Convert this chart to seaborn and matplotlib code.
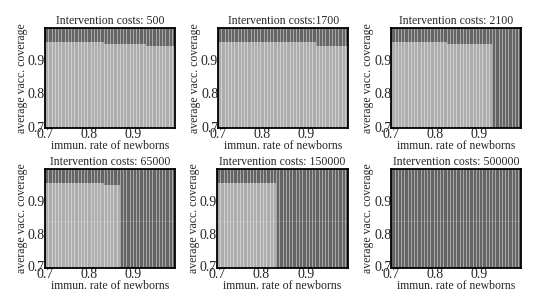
import numpy as np
import matplotlib
matplotlib.use("Agg")
import matplotlib.pyplot as plt
import seaborn as sns
from matplotlib.colors import ListedColormap

sns.set_style("white")
plt.rcParams["font.family"] = ["Liberation Serif", "DejaVu Serif"]

# intervention costs shown in the panel titles
costs = ["500", "1700", "2100", "65000", "150000", "500000"]
titles = ["Intervention costs: 500", "Intervention costs:1700", "Intervention costs: 2100",
          "Intervention costs: 65000", "Intervention costs: 150000", "Intervention costs: 500000"]

# light (feasible) region: right edge of each step and its top coverage
steps_x = [
    [0.83, 0.925, 0.995],
    [0.83, 0.92, 0.995],
    [0.827, 0.927],
    [0.83, 0.866],
    [0.836],
    [],
]
steps_top = [
    [0.96, 0.955, 0.946],
    [0.96, 0.957, 0.947],
    [0.96, 0.955],
    [0.96, 0.955],
    [0.96],
    [],
]

# grid of the simulation
x_edges = np.linspace(0.70, 0.995, 41)
y_edges = np.linspace(0.70, 1.0, 51)
x_mid = (x_edges[:-1] + x_edges[1:]) / 2
y_mid = (y_edges[:-1] + y_edges[1:]) / 2
dx = x_edges[1] - x_edges[0]
dy = y_edges[1] - y_edges[0]

positions = [
    [0.084, 0.584, 0.2425, 0.325],
    [0.407, 0.584, 0.2425, 0.325],
    [0.730, 0.584, 0.2425, 0.325],
    [0.084, 0.130, 0.2425, 0.321],
    [0.405, 0.130, 0.2445, 0.321],
    [0.730, 0.130, 0.2425, 0.321],
]

cmap = ListedColormap(["#4a4a4a", "#a0a0a0"])

fig = plt.figure(figsize=(5.36, 3.08), dpi=100)

for i in range(6):
    grid = np.zeros((len(y_mid), len(x_mid)))
    left = 0.70
    for xr, top in zip(steps_x[i], steps_top[i]):
        cols = (x_mid >= left) & (x_mid < xr)
        rows = y_mid < top
        grid[np.ix_(rows, cols)] = 1
        left = xr

    ax = fig.add_axes(positions[i])
    sns.heatmap(grid, ax=ax, cmap=cmap, vmin=0, vmax=1, cbar=False,
                linewidths=0, square=False)
    ax.invert_yaxis()
    # the fine mesh lines of the original plot
    for k in range(1, len(x_mid)):
        ax.axvline(k, color="white", lw=0.45, alpha=0.7)
    for k in range(1, len(y_mid)):
        ax.axhline(k, color="white", lw=0.35, alpha=0.6)

    ticks = [0.7, 0.8, 0.9]
    ax.set_xticks([(t - 0.70) / dx for t in ticks])
    ax.set_xticklabels(["0.7", "0.8", "0.9"], rotation=0, fontsize=10)
    ax.set_yticks([(t - 0.70) / dy for t in ticks])
    ax.set_yticklabels(["0.7", "0.8", "0.9"], rotation=0, fontsize=10)
    ax.tick_params(length=0, pad=0)

    ax.set_title(titles[i], fontsize=8.5, pad=3)
    ax.set_xlabel("immun. rate of newborns", fontsize=8.5, labelpad=-1)
    ax.set_ylabel("average vacc. coverage", fontsize=8.5, labelpad=0)
    for s in ax.spines.values():
        s.set_visible(True)
        s.set_linewidth(1.3)
        s.set_color("black")

fig.savefig("out.png", dpi=100)
